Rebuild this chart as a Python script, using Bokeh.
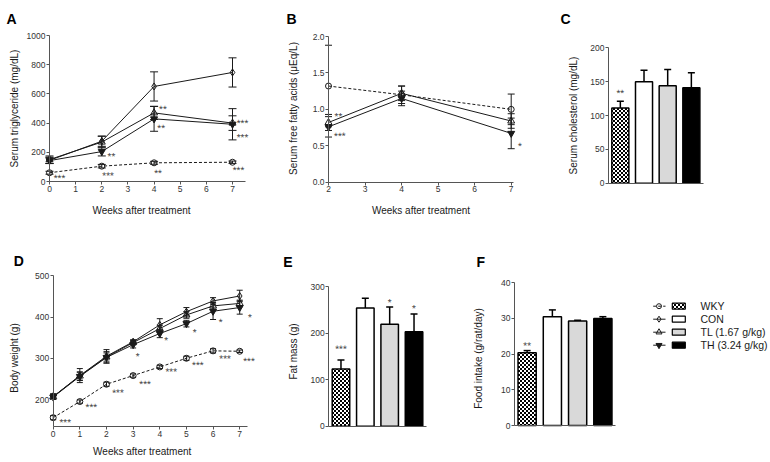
import base64
import math
from bokeh.plotting import figure
from bokeh.layouts import column, row
from bokeh.models import (Range1d, LinearAxis, FixedTicker, Whisker, TeeHead,
                          ColumnDataSource, NumeralTickFormatter, ImageURLTexture)
from bokeh.core.properties import value
from bokeh.embed import file_html
from bokeh.resources import INLINE

# ---------------- data ----------------
groups = ["WKY", "CON", "TL (1.67 g/kg)", "TH (3.24 g/kg)"]

# A: serum triglyceride (mg/dL)
tg_weeks = [0, 2, 4, 7]
tg_wky = [60, 105, 128, 132]
tg_wky_err = [10, 12, 10, 8]
tg_con = [145, 276, 651, 747]
tg_con_err = [22, 35, 100, 100]
tg_tl = [150, 270, 470, 400]
tg_tl_err = [25, 40, 45, 50]
tg_th = [143, 205, 429, 392]
tg_th_err = [20, 30, 85, 107]
tg_sig_x = [0.38, 2.24, 2.37, 4.34, 4.27, 4.15, 7.38, 7.38, 7.23]
tg_sig_y = [36, 53, 185, 509, 379, 71, 413, 315, 91]
tg_sig = ["***", "***", "**", "**", "**", "**", "***", "***", "***"]

# B: serum free fatty acids (uEq/L)
ffa_weeks = [2, 4, 7]
ffa_wky = [1.32, 1.20, 1.00]
ffa_wky_err = [0.56, 0.12, 0.21]
ffa_tl = [0.82, 1.22, 0.84]
ffa_tl_err = [0.11, 0.10, 0.10]
ffa_th = [0.76, 1.15, 0.67]
ffa_th_err = [0.14, 0.10, 0.21]
ffa_sig_x = [2.27, 2.31, 7.24]
ffa_sig_y = [0.93, 0.66, 0.52]
ffa_sig = ["**", "***", "*"]

# C: serum cholesterol (mg/dL)
chol = [111, 150, 144, 141]
chol_err = [10, 17, 24, 22]
chol_sig = ["**", "", "", ""]
chol_sig_y = [136, 0, 0, 0]

# D: body weight (g)
bw_weeks = [0, 1, 2, 3, 4, 5, 6, 7]
bw_wky = [156, 195, 237, 258, 279, 300, 318, 317]
bw_wky_err = [5, 4, 5, 4, 4, 5, 5, 3]
bw_con = [207, 258, 305, 340, 381, 413, 439, 451]
bw_con_err = [7, 17, 16, 5, 15, 10, 8, 14]
bw_tl = [207, 257, 303, 338, 372, 405, 427, 433]
bw_tl_err = [6, 10, 10, 5, 8, 8, 8, 8]
bw_th = [206, 256, 302, 333, 360, 384, 414, 423]
bw_th_err = [6, 10, 14, 8, 10, 8, 20, 16]
bw_sig_x = [0.45, 1.43, 2.43, 3.45, 3.17, 4.24, 4.43, 5.31, 5.43, 6.29, 6.45, 7.38, 7.35]
bw_sig_y = [149, 186, 221, 242, 309, 348, 272, 367.5, 288, 392, 303.6, 404, 297.8]
bw_sig = ["***", "***", "***", "***", "*", "*", "***", "*", "***", "*", "***", "*", "***"]

# E: fat mass (g)
fat = [123, 254, 219, 203]
fat_err = [19, 21, 37, 38]
fat_sig = ["***", "", "*", "*"]
fat_sig_y = [170, 0, 270, 257]

# F: food intake (g/rat/day)
food = [20.4, 30.5, 29.3, 30.0]
food_err = [0.6, 1.9, 0.2, 0.5]
food_sig = ["**", "", "", ""]
food_sig_y = [22.9, 0, 0, 0]

# ---------------- style ----------------
FONT = "Liberation Sans"
AXC = "#555555"
TXC = "#333333"
INK = "#1a1a1a"
SERIES_MARKER = ["circle", "diamond", "triangle", "inverted_triangle"]
SERIES_SIZE = [6, 7, 7, 7]
SERIES_FILL = [None, None, None, INK]
SERIES_DASH = ["3 2", "solid", "solid", "solid"]
BAR_FILLS = ["white", "white", "#d9d9d9", "black"]
BAR_HATCH = ["checker", " ", " ", " "]

svg = ("<svg xmlns='http://www.w3.org/2000/svg' width='4' height='4' shape-rendering='crispEdges'>"
       "<rect width='4' height='4' fill='#ffffff'/><rect width='2' height='2' fill='#000000'/>"
       "<rect x='2' y='2' width='2' height='2' fill='#000000'/></svg>")
TEX = {"checker": ImageURLTexture(url="data:image/svg+xml;base64," + base64.b64encode(svg.encode()).decode(),
                                  repetition="repeat")}


class Geo:
    """Panel geometry: figure box on the page and two reference ticks per axis (page px)."""
    def __init__(self, box, xref, yref):
        self.ox, self.oy, self.w, self.h = box
        (self.xa, self.pxa), (xb, pxb) = xref
        (self.ya, self.pya), (yb, pyb) = yref
        self.kx = (xb - self.xa) / (pxb - self.pxa)
        self.ky = (yb - self.ya) / (pyb - self.pya)

    def x(self, px):
        return self.xa + (px - self.pxa) * self.kx

    def y(self, py):
        return self.ya + (py - self.pya) * self.ky

    def xr(self):
        return Range1d(self.x(self.ox), self.x(self.ox + self.w))

    def yr(self):
        return Range1d(self.y(self.oy + self.h), self.y(self.oy))


def make_fig(g):
    p = figure(width=g.w, height=g.h, x_range=g.xr(), y_range=g.yr(), title=None,
               output_backend="svg", toolbar_location=None, tools="",
               x_axis_location=None, y_axis_location=None,
               min_border=0, min_border_left=0, min_border_right=0,
               min_border_top=0, min_border_bottom=0)
    p.grid.visible = False
    p.outline_line_color = None
    return p


def style_ax(ax, ticks):
    ax.ticker = FixedTicker(ticks=ticks)
    ax.axis_line_color = AXC
    ax.major_tick_line_color = AXC
    ax.minor_tick_line_color = None
    ax.major_tick_in = 0
    ax.major_tick_out = 3
    ax.major_label_standoff = 1
    ax.major_label_text_font = FONT
    ax.major_label_text_font_size = "8.5px"
    ax.major_label_text_color = TXC


def add_axes(p, x_loc, xbounds, xticks, y_loc, ybounds, yticks, yfmt=None):
    xa = LinearAxis(fixed_location=x_loc, bounds=xbounds)
    style_ax(xa, xticks)
    p.add_layout(xa, "below")
    ya = LinearAxis(fixed_location=y_loc, bounds=ybounds)
    style_ax(ya, yticks)
    if yfmt:
        ya.formatter = NumeralTickFormatter(format=yfmt)
    p.add_layout(ya, "left")


def add_text(p, g, px, py, txt, size="10px", style="normal", angle=0.0, align="center",
             baseline="middle", color=INK):
    p.text(x=[g.x(px)], y=[g.y(py)], text=[txt], angle=angle, text_font=value(FONT),
           text_font_size=size, text_font_style=style, text_align=align,
           text_baseline=baseline, text_color=color)


def add_letter(p, g, px, py, letter):
    add_text(p, g, px, py, letter, size="14px", style="bold", align="left",
             baseline="alphabetic", color="black")


def draw_series(p, xs, ys, errs, gi, head):
    src = ColumnDataSource(dict(x=xs, y=ys,
                                lo=[y - e for y, e in zip(ys, errs)],
                                hi=[y + e for y, e in zip(ys, errs)]))
    p.line("x", "y", source=src, line_color=INK, line_width=1, line_dash=SERIES_DASH[gi])
    p.add_layout(Whisker(source=src, base="x", upper="hi", lower="lo", dimension="height",
                         line_color=INK, line_width=1,
                         upper_head=TeeHead(size=head, line_color=INK, line_width=1),
                         lower_head=TeeHead(size=head, line_color=INK, line_width=1)))
    p.scatter("x", "y", source=src, marker=SERIES_MARKER[gi], size=SERIES_SIZE[gi],
              line_color=INK, line_width=1, fill_color=SERIES_FILL[gi])


def draw_sig(p, xs, ys, ts):
    # a tiny angle makes the browser use grey-scale antialiasing for these thin glyphs
    p.text(x=xs, y=ys, text=ts, angle=0.01, text_font=value(FONT), text_font_size="10px",
           text_align="center", text_baseline="middle", text_color="#3a3a3a", y_offset=2)


def bar_panel(g, ytop, yticks, vals, errs, sig, sig_y):
    p = make_fig(g)
    add_axes(p, 0, (0, 4), [], 0, (0, ytop), yticks)
    xs = [i + 0.5 for i in range(len(groups))]
    src = ColumnDataSource(dict(x=xs, top=vals, hi=[v + e for v, e in zip(vals, errs)],
                                fill=BAR_FILLS, hatch=BAR_HATCH))
    p.vbar(x="x", top="top", bottom=0, width=0.72, source=src, fill_color="fill",
           line_color="black", line_width=1.5, hatch_pattern="hatch", hatch_extra=TEX)
    p.add_layout(Whisker(source=src, base="x", upper="hi", lower="top", dimension="height",
                         line_color="black", line_width=1.5, lower_head=None,
                         upper_head=TeeHead(size=7, line_color="black", line_width=1.5)))
    sx = [x for x, s in zip(xs, sig) if s]
    sy = [y for y, s in zip(sig_y, sig) if s]
    st = [s for s in sig if s]
    draw_sig(p, sx, sy, st)
    return p


# ---------------- panel A ----------------
gA = Geo((0, 0, 258, 230), ((0, 49), (7, 232)), ((0, 181), (1000, 35)))
pa = make_fig(gA)
add_axes(pa, 0, (0, 7.5), [0, 1, 2, 3, 4, 5, 6, 7], 0, (0, 1000), [0, 200, 400, 600, 800, 1000])
for gi, (m, e) in enumerate([(tg_wky, tg_wky_err), (tg_con, tg_con_err),
                             (tg_tl, tg_tl_err), (tg_th, tg_th_err)]):
    draw_series(pa, tg_weeks, m, e, gi, 8)
draw_sig(pa, tg_sig_x, tg_sig_y, tg_sig)
add_text(pa, gA, 14, 108, "Serum triglyceride (mg/dL)", angle=math.pi / 2)
add_text(pa, gA, 141, 210, "Weeks after treatment")
add_letter(pa, gA, 6, 18.5, "A")

# ---------------- panel B ----------------
gB = Geo((258, 0, 267, 230), ((2, 328), (7, 510.7)), ((0, 181.7), (2, 36)))
pb = make_fig(gB)
add_axes(pb, 0, (2, 7.05), [2, 3, 4, 5, 6, 7], 2, (0, 2), [0, 0.5, 1.0, 1.5, 2.0], yfmt="0.0")
for gi, (m, e) in [(0, (ffa_wky, ffa_wky_err)), (2, (ffa_tl, ffa_tl_err)), (3, (ffa_th, ffa_th_err))]:
    draw_series(pb, ffa_weeks, m, e, gi, 7)
draw_sig(pb, ffa_sig_x, ffa_sig_y, ffa_sig)
add_text(pb, gB, 293, 108, "Serum free fatty acids (\u03bcEq/L)", angle=math.pi / 2)
add_text(pb, gB, 420.5, 210, "Weeks after treatment")
add_letter(pb, gB, 286, 18.5, "B")

# ---------------- panel C ----------------
gC = Geo((525, 0, 243, 230), ((0, 608), (4, 702.7)), ((0, 182.7), (200, 47.3)))
pc = bar_panel(gC, 200, [0, 50, 100, 150, 200], chol, chol_err, chol_sig, chol_sig_y)
add_text(pc, gC, 573, 115, "Serum cholesterol (mg/dL)", angle=math.pi / 2)
add_letter(pc, gC, 560, 18.5, "C")

# ---------------- panel D ----------------
gD = Geo((0, 230, 258, 230), ((0, 52.7), (7, 239.2)), ((200, 399), (500, 275.3)))
pd_ = make_fig(gD)
add_axes(pd_, gD.y(426.3), (0, 7.3), [0, 1, 2, 3, 4, 5, 6, 7], 0, (gD.y(426.3), 500),
         [200, 300, 400, 500])
for gi, (m, e) in enumerate([(bw_wky, bw_wky_err), (bw_con, bw_con_err),
                             (bw_tl, bw_tl_err), (bw_th, bw_th_err)]):
    draw_series(pd_, bw_weeks, m, e, gi, 6)
draw_sig(pd_, bw_sig_x, bw_sig_y, bw_sig)
add_text(pd_, gD, 14, 357.5, "Body weight (g)", angle=math.pi / 2)
add_text(pd_, gD, 141.7, 451, "Weeks after treatment")
add_letter(pd_, gD, 13.3, 260, "D")

# ---------------- panel E ----------------
gE = Geo((258, 230, 208, 230), ((0, 328.3), (4, 425.7)), ((0, 425.7), (300, 286)))
pe = bar_panel(gE, 300, [0, 100, 200, 300], fat, fat_err, fat_sig, fat_sig_y)
add_text(pe, gE, 292.7, 351, "Fat mass (g)", angle=math.pi / 2)
add_letter(pe, gE, 282.7, 261.7, "E")

# ---------------- panel F ----------------
gF = Geo((466, 230, 174, 230), ((0, 514), (4, 615)), ((0, 425), (40, 282.3)))
pf = bar_panel(gF, 40, [0, 10, 20, 30, 40], food, food_err, food_sig, food_sig_y)
add_text(pf, gF, 478, 358, "Food intake (g/rat/day)", angle=math.pi / 2)
add_letter(pf, gF, 476, 261.7, "F")

# ---------------- legend ----------------
gL = Geo((640, 230, 128, 230), ((0, 0), (1, 1)), ((0, 0), (-1, 1)))  # page-pixel coordinates
lg = make_fig(gL)
LEG_Y0, LEG_DY = 305.7, 13
LEG_LINE_X0, LEG_LINE_X1, LEG_MARK_X, LEG_BOX_X, LEG_TEXT_X = 652.7, 665, 658.5, 678.3, 700
leg_py = [LEG_Y0 + i * LEG_DY for i in range(len(groups))]
leg_y = [gL.y(v) for v in leg_py]
for gi in range(len(groups)):
    lg.segment(x0=[gL.x(LEG_LINE_X0)], y0=[leg_y[gi]], x1=[gL.x(LEG_LINE_X1)], y1=[leg_y[gi]],
               line_color=INK, line_width=1, line_dash=SERIES_DASH[gi])
    lg.scatter([gL.x(LEG_MARK_X)], [leg_y[gi]], marker=SERIES_MARKER[gi], size=SERIES_SIZE[gi] - 1,
               line_color=INK, line_width=1, fill_color=SERIES_FILL[gi])
lg.rect(x=[gL.x(LEG_BOX_X)] * 4, y=leg_y, width=13, height=6, fill_color=BAR_FILLS,
        line_color="black", line_width=1.2, hatch_pattern=BAR_HATCH, hatch_extra=TEX)
lg.text(x=[gL.x(LEG_TEXT_X)] * 4, y=leg_y, text=groups, text_font=value(FONT),
        text_font_size="10.5px", text_baseline="middle", text_align="left", text_color=INK)

layout = column(row(pa, pb, pc), row(pd_, pe, pf, lg))
open("out.html", "w").write(file_html(layout, INLINE))
